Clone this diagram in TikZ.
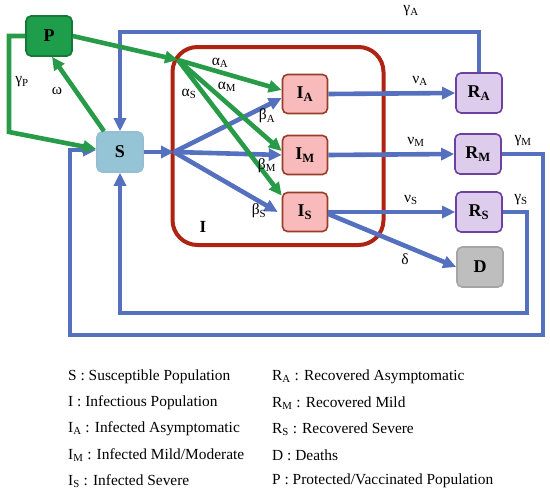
\documentclass[tikz,border=0pt]{standalone}
\usepackage{fontspec}
\setmainfont{Liberation Serif}
\usetikzlibrary{arrows.meta,calc}
\definecolor{myblue}{RGB}{84,112,190}
\definecolor{mygreen}{RGB}{40,155,72}
\definecolor{pfill}{RGB}{30,158,74}
\definecolor{pdraw}{RGB}{22,120,55}
\definecolor{sfill}{RGB}{148,196,214}
\definecolor{sdraw}{RGB}{150,190,210}
\definecolor{ifill}{RGB}{248,186,186}
\definecolor{idraw}{RGB}{150,62,40}
\definecolor{rfill}{RGB}{222,204,236}
\definecolor{rdraw}{RGB}{110,64,160}
\definecolor{dfill}{RGB}{190,190,190}
\definecolor{ddraw}{RGB}{165,165,165}
\definecolor{redbox}{RGB}{175,35,18}
\begin{document}
\begin{tikzpicture}[x=1pt,y=-1pt,
  box/.style={draw, line width=1.6pt, rounded corners=5pt, minimum width=46pt, minimum height=40pt, inner sep=0pt, font=\fontsize{18}{18}\selectfont\bfseries},
  bl/.style={draw=myblue, line width=4.6pt},
  bla/.style={bl, -{Triangle[length=13pt,width=12pt]}},
  gr/.style={draw=mygreen, line width=4.6pt},
  gra/.style={gr, -{Triangle[length=13pt,width=12pt]}},
  lbl/.style={font=\fontsize{15.5}{15.5}\selectfont, inner sep=0pt},
  leg/.style={font=\fontsize{15.4}{15.4}\selectfont, inner sep=0pt, anchor=west}]
\useasboundingbox (0,0) rectangle (550,498);
% infectious group box
\node[draw=redbox, line width=4pt, rounded corners=25pt, minimum width=211pt, minimum height=198pt] (Ibox) at (278,146) {};
\node[lbl, font=\fontsize{17}{17}\selectfont\bfseries] (Ilab) at (203,227) {I};
% nodes
\node[box, fill=pfill, draw=pdraw] (P) at (49,36) {P};
\node[box, fill=sfill, draw=sdraw] (S) at (120,152) {S};
\node[box, fill=ifill, draw=idraw, minimum width=45pt, minimum height=39pt] (IA) at (305,94) {I\textsubscript{A}};
\node[box, fill=ifill, draw=idraw, minimum width=45pt, minimum height=39pt] (IM) at (305,155) {I\textsubscript{M}};
\node[box, fill=ifill, draw=idraw, minimum width=45pt, minimum height=39pt] (IS) at (305,212) {I\textsubscript{S}};
\node[box, fill=rfill, draw=rdraw] (RA) at (479,93) {R\textsubscript{A}};
\node[box, fill=rfill, draw=rdraw] (RM) at (478,154) {R\textsubscript{M}};
\node[box, fill=rfill, draw=rdraw] (RS) at (479,212) {R\textsubscript{S}};
\node[box, fill=dfill, draw=ddraw] (D) at (480,267) {D};
% coordinates
\coordinate (J) at (174,152);
\coordinate (G) at (178,60);
\coordinate (cA1) at (479,32);
\coordinate (cA2) at (120,32);
\coordinate (cM1) at (543,154);
\coordinate (cM2) at (543,335);
\coordinate (cM3) at (70,335);
\coordinate (cM4) at (70,150);
\coordinate (cS1) at (527,212);
\coordinate (cS2) at (527,313);
\coordinate (cS3) at (120,313);
\coordinate (cP1) at (9,36);
\coordinate (cP2) at (9,132);
% blue flows
\draw[bla] (RA.north) -- (cA1) -- (cA2) -- (S.north);
\draw[bla] (RM.east) -- (cM1) -- (cM2) -- (cM3) -- (cM4) -- ($(S.west)+(0,-2)$);
\draw[bla] (RS.east) -- (cS1) -- (cS2) -- (cS3) -- (S.south);
\draw[bla] (IA.east) -- (RA.west);
\draw[bla] (IM.east) -- (RM.west);
\draw[bla] (IS.east) -- (RS.west);
\draw[bla] ($(IS.east)+(0,2)$) -- (D.west);
\draw[bla] (S.east) -- (J);
\draw[bla] (J) -- ($(IA.west)+(0,4)$);
\draw[bla] (J) -- (IM.west);
\draw[bla] (J) -- ($(IS.west)+(-4,0)$);
% green flows
\draw[gra] (P.east) -- (G);
\draw[gra] (G) -- ($(IA.west)+(0,-4)$);
\draw[gra] (G) -- ($(IM.west)+(0,-4)$);
\draw[gra] (G) -- ($(IS.north west)+(0,4)$);
\draw[gra] ($(S.north)+(-16,0)$) -- ($(P.south)+(3,0)$);
\draw[gra] (P.west) -- (cP1) -- (cP2) -- ($(S.west)+(0,-3)$);
% rate labels
\node[lbl] (gA) at (411,11) {γ\textsubscript{A}};
\node[lbl] (nA) at (420,81) {ν\textsubscript{A}};
\node[lbl] (nM) at (416,142) {ν\textsubscript{M}};
\node[lbl] (gM) at (523,141) {γ\textsubscript{M}};
\node[lbl] (nS) at (411,200) {ν\textsubscript{S}};
\node[lbl] (gS) at (521,200) {γ\textsubscript{S}};
\node[lbl] (dl) at (405,259) {δ};
\node[lbl] (aA) at (220,63) {α\textsubscript{A}};
\node[lbl] (aM) at (227,87) {α\textsubscript{M}};
\node[lbl] (aS) at (189,94) {α\textsubscript{S}};
\node[lbl] (bA) at (267,116) {β\textsubscript{A}};
\node[lbl] (bM) at (267,166) {β\textsubscript{M}};
\node[lbl] (bS) at (259,211) {β\textsubscript{S}};
\node[lbl] (om) at (57,91) {ω};
\node[lbl] (gP) at (22,82) {γ\textsubscript{P}};
% legend
\node[leg] (l1) at (68,377) {S : Susceptible Population};
\node[leg] (l2) at (68,403) {I : Infectious Population};
\node[leg] (l3) at (68,429) {I\textsubscript{A} : Infected Asymptomatic};
\node[leg] (l4) at (68,455) {I\textsubscript{M} : Infected Mild/Moderate};
\node[leg] (l5) at (68,481) {I\textsubscript{S} : Infected Severe};
\node[leg] (r1) at (272,377) {R\textsubscript{A} : Recovered Asymptomatic};
\node[leg] (r2) at (272,403) {R\textsubscript{M} : Recovered Mild};
\node[leg] (r3) at (272,429) {R\textsubscript{S} : Recovered Severe};
\node[leg] (r4) at (272,455) {D : Deaths};
\node[leg] (r5) at (272,481) {P : Protected/Vaccinated Population};
\end{tikzpicture}
\end{document}
